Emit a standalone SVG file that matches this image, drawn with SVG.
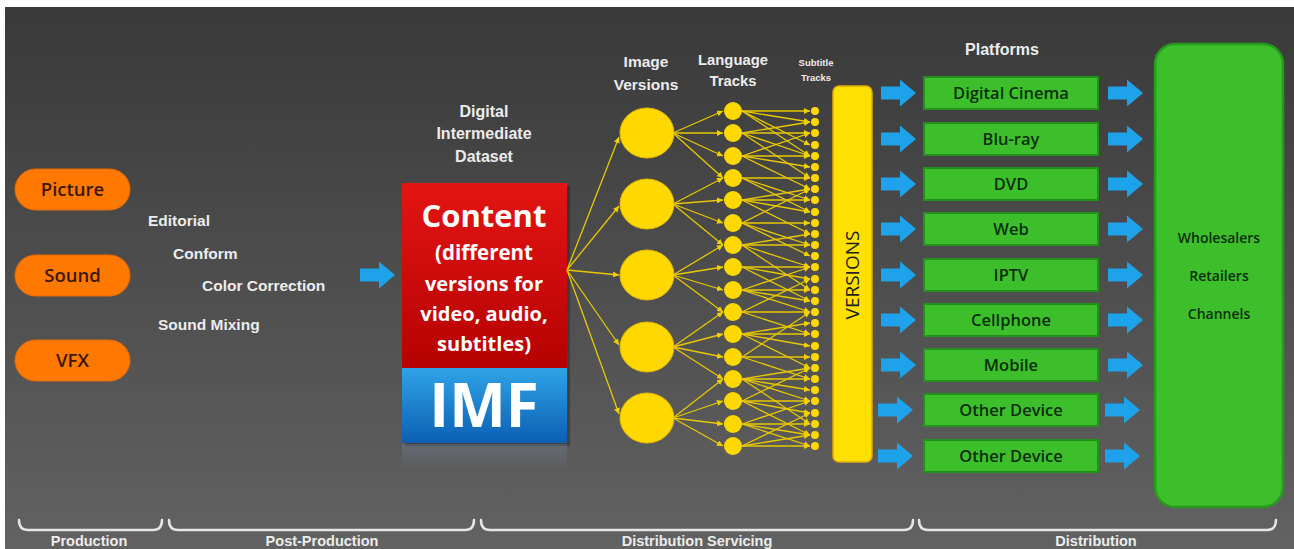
<svg xmlns="http://www.w3.org/2000/svg" width="1294" height="549" viewBox="0 0 1294 549">
<defs>
<linearGradient id="bg" x1="0" y1="0" x2="0" y2="1"><stop offset="0" stop-color="#393939"/><stop offset="1" stop-color="#626262"/></linearGradient>
<linearGradient id="red" x1="0" y1="0" x2="0" y2="1"><stop offset="0" stop-color="#e41414"/><stop offset="1" stop-color="#b50202"/></linearGradient>
<linearGradient id="blue" x1="0" y1="0" x2="0" y2="1"><stop offset="0" stop-color="#2fa3e6"/><stop offset="1" stop-color="#0c5fb3"/></linearGradient>
<linearGradient id="refl" x1="0" y1="0" x2="0" y2="1"><stop offset="0" stop-color="#7a8fb0" stop-opacity="0.3"/><stop offset="1" stop-color="#7a8fb0" stop-opacity="0"/></linearGradient>
<marker id="ah" viewBox="0 0 6 6" refX="6" refY="3" markerWidth="6" markerHeight="6" markerUnits="userSpaceOnUse" orient="auto"><path d="M0,0 L6,3 L0,6 z" fill="#f2d000"/></marker>
<path id="barrow" d="M0,-6.5 H19 V-13.5 L35,0 L19,13.5 V6.5 H0 Z" fill="#1ea3ea"/>
<style>
.lbl{font-family:"Liberation Sans",Arial,sans-serif;font-weight:bold;fill:#ececec;}
.pill{fill:#ff7800;stroke:#e86a00;stroke-width:1;}
.ptxt{font-family:"Open Sans",sans-serif;font-size:18.5px;font-weight:600;fill:#3a1800;text-anchor:middle;}
.ln{stroke:#e8c800;stroke-width:1.3;fill:none;marker-end:url(#ah);}
.big{fill:#ffd800;stroke:#e6b800;stroke-width:1;}
.gbox{fill:#3cbf2b;stroke:#23921c;stroke-width:2;}
.gtxt{font-family:"Open Sans",sans-serif;font-size:16.5px;font-weight:600;fill:#0d2e0b;text-anchor:middle;}
.brace{fill:none;stroke:#e6e6e6;stroke-width:2.5;stroke-linecap:round;}
.blbl{font-family:"Liberation Sans",Arial,sans-serif;font-weight:bold;font-size:14.5px;fill:#ececec;text-anchor:middle;}
</style>
</defs>
<rect x="0" y="0" width="1294" height="549" fill="#ffffff"/>
<rect x="5" y="7" width="1289" height="542" fill="url(#bg)"/>

<g id="picture"><rect class="pill" x="15" y="169" width="115" height="41" rx="20.5"/><text class="ptxt" x="72.5" y="196">Picture</text></g>
<g id="sound"><rect class="pill" x="15" y="255" width="115" height="41" rx="20.5"/><text class="ptxt" x="72.5" y="282">Sound</text></g>
<g id="vfx"><rect class="pill" x="15" y="340" width="115" height="41" rx="20.5"/><text class="ptxt" x="72.5" y="367">VFX</text></g>

<g id="postprod">
<text class="lbl" x="148" y="226" font-size="15.5">Editorial</text>
<text class="lbl" x="173" y="259" font-size="15.5">Conform</text>
<text class="lbl" x="202" y="291" font-size="15.5">Color Correction</text>
<text class="lbl" x="158" y="330" font-size="15.5">Sound Mixing</text>
</g>

<g id="arrow-post"><use href="#barrow" x="360" y="275"/></g>

<g id="dataset-label">
<text class="lbl" x="484" y="117" font-size="16" text-anchor="middle">Digital</text>
<text class="lbl" x="484" y="139" font-size="16" text-anchor="middle">Intermediate</text>
<text class="lbl" x="484" y="162" font-size="16" text-anchor="middle">Dataset</text>
</g>

<g id="content">
<rect x="405" y="186" width="165" height="260" fill="#000" opacity="0.25"/>
<rect x="402" y="444" width="165" height="26" fill="url(#refl)"/>
<rect x="402" y="183" width="165" height="185" fill="url(#red)"/>
<rect x="402" y="368" width="165" height="75" fill="url(#blue)"/>
<g font-family="'Open Sans',sans-serif" font-weight="bold" fill="#ffffff" text-anchor="middle">
<text x="484" y="227" font-size="31">Content</text>
<text x="484" y="260" font-size="20.5">(different</text>
<text x="484" y="291" font-size="20">versions for</text>
<text x="484" y="321" font-size="20">video, audio,</text>
<text x="484" y="351" font-size="20">subtitles)</text>
<text x="484" y="427" font-size="60">IMF</text>
</g>
</g>

<g id="column-labels" class="lbl" text-anchor="middle">
<text x="646" y="67" font-size="15.5">Image</text>
<text x="646" y="90" font-size="15.5">Versions</text>
<text x="733" y="65" font-size="14.8">Language</text>
<text x="733" y="86" font-size="14.8">Tracks</text>
<text x="816" y="66" font-size="9.5">Subtitle</text>
<text x="816" y="81" font-size="9.5">Tracks</text>
<text x="1002" y="55" font-size="16">Platforms</text>
</g>

<g id="connectors">
<line class="ln" x1="567" y1="270" x2="619" y2="137"/>
<line class="ln" x1="567" y1="270" x2="619" y2="206"/>
<line class="ln" x1="567" y1="270" x2="619" y2="275"/>
<line class="ln" x1="567" y1="270" x2="619" y2="345"/>
<line class="ln" x1="567" y1="270" x2="619" y2="414"/>

<line class="ln" x1="673" y1="133" x2="723" y2="111"/>
<line class="ln" x1="673" y1="133" x2="723" y2="133"/>
<line class="ln" x1="673" y1="133" x2="723" y2="156"/>
<line class="ln" x1="673" y1="133" x2="723" y2="178"/>
<line class="ln" x1="673" y1="204" x2="723" y2="178"/>
<line class="ln" x1="673" y1="204" x2="723" y2="200"/>
<line class="ln" x1="673" y1="204" x2="723" y2="223"/>
<line class="ln" x1="673" y1="204" x2="723" y2="245"/>
<line class="ln" x1="673" y1="275" x2="723" y2="245"/>
<line class="ln" x1="673" y1="275" x2="723" y2="267"/>
<line class="ln" x1="673" y1="275" x2="723" y2="290"/>
<line class="ln" x1="673" y1="275" x2="723" y2="312"/>
<line class="ln" x1="673" y1="347" x2="723" y2="312"/>
<line class="ln" x1="673" y1="347" x2="723" y2="334"/>
<line class="ln" x1="673" y1="347" x2="723" y2="357"/>
<line class="ln" x1="673" y1="347" x2="723" y2="379"/>
<line class="ln" x1="673" y1="418" x2="723" y2="379"/>
<line class="ln" x1="673" y1="418" x2="723" y2="401"/>
<line class="ln" x1="673" y1="418" x2="723" y2="424"/>
<line class="ln" x1="673" y1="418" x2="723" y2="446"/>

<line class="ln" x1="742" y1="111" x2="810" y2="111"/>
<line class="ln" x1="742" y1="111" x2="810" y2="122"/>
<line class="ln" x1="742" y1="111" x2="810" y2="145"/>
<line class="ln" x1="742" y1="111" x2="810" y2="156"/>
<line class="ln" x1="742" y1="133" x2="810" y2="122"/>
<line class="ln" x1="742" y1="133" x2="810" y2="133"/>
<line class="ln" x1="742" y1="133" x2="810" y2="156"/>
<line class="ln" x1="742" y1="133" x2="810" y2="178"/>
<line class="ln" x1="742" y1="156" x2="810" y2="133"/>
<line class="ln" x1="742" y1="156" x2="810" y2="156"/>
<line class="ln" x1="742" y1="156" x2="810" y2="167"/>
<line class="ln" x1="742" y1="156" x2="810" y2="189"/>
<line class="ln" x1="742" y1="178" x2="810" y2="178"/>
<line class="ln" x1="742" y1="178" x2="810" y2="200"/>
<line class="ln" x1="742" y1="178" x2="810" y2="212"/>
<line class="ln" x1="742" y1="200" x2="810" y2="189"/>
<line class="ln" x1="742" y1="200" x2="810" y2="200"/>
<line class="ln" x1="742" y1="200" x2="810" y2="212"/>
<line class="ln" x1="742" y1="200" x2="810" y2="234"/>
<line class="ln" x1="742" y1="223" x2="810" y2="189"/>
<line class="ln" x1="742" y1="223" x2="810" y2="223"/>
<line class="ln" x1="742" y1="223" x2="810" y2="245"/>
<line class="ln" x1="742" y1="223" x2="810" y2="256"/>
<line class="ln" x1="742" y1="245" x2="810" y2="234"/>
<line class="ln" x1="742" y1="245" x2="810" y2="245"/>
<line class="ln" x1="742" y1="245" x2="810" y2="267"/>
<line class="ln" x1="742" y1="245" x2="810" y2="290"/>
<line class="ln" x1="742" y1="267" x2="810" y2="267"/>
<line class="ln" x1="742" y1="267" x2="810" y2="279"/>
<line class="ln" x1="742" y1="267" x2="810" y2="301"/>
<line class="ln" x1="742" y1="290" x2="810" y2="267"/>
<line class="ln" x1="742" y1="290" x2="810" y2="290"/>
<line class="ln" x1="742" y1="290" x2="810" y2="301"/>
<line class="ln" x1="742" y1="290" x2="810" y2="312"/>
<line class="ln" x1="742" y1="312" x2="810" y2="279"/>
<line class="ln" x1="742" y1="312" x2="810" y2="312"/>
<line class="ln" x1="742" y1="312" x2="810" y2="334"/>
<line class="ln" x1="742" y1="334" x2="810" y2="323"/>
<line class="ln" x1="742" y1="334" x2="810" y2="334"/>
<line class="ln" x1="742" y1="334" x2="810" y2="346"/>
<line class="ln" x1="742" y1="334" x2="810" y2="368"/>
<line class="ln" x1="742" y1="357" x2="810" y2="312"/>
<line class="ln" x1="742" y1="357" x2="810" y2="357"/>
<line class="ln" x1="742" y1="357" x2="810" y2="379"/>
<line class="ln" x1="742" y1="379" x2="810" y2="368"/>
<line class="ln" x1="742" y1="379" x2="810" y2="379"/>
<line class="ln" x1="742" y1="379" x2="810" y2="390"/>
<line class="ln" x1="742" y1="379" x2="810" y2="401"/>
<line class="ln" x1="742" y1="379" x2="810" y2="424"/>
<line class="ln" x1="742" y1="401" x2="810" y2="368"/>
<line class="ln" x1="742" y1="401" x2="810" y2="401"/>
<line class="ln" x1="742" y1="401" x2="810" y2="413"/>
<line class="ln" x1="742" y1="401" x2="810" y2="435"/>
<line class="ln" x1="742" y1="424" x2="810" y2="401"/>
<line class="ln" x1="742" y1="424" x2="810" y2="424"/>
<line class="ln" x1="742" y1="424" x2="810" y2="435"/>
<line class="ln" x1="742" y1="424" x2="810" y2="446"/>
<line class="ln" x1="742" y1="446" x2="810" y2="413"/>
<line class="ln" x1="742" y1="446" x2="810" y2="435"/>
<line class="ln" x1="742" y1="446" x2="810" y2="446"/>

<use href="#barrow" x="881" y="93"/>
<use href="#barrow" x="881" y="139"/>
<use href="#barrow" x="881" y="184"/>
<use href="#barrow" x="881" y="229"/>
<use href="#barrow" x="881" y="275"/>
<use href="#barrow" x="881" y="320"/>
<use href="#barrow" x="881" y="365"/>
<use href="#barrow" x="878" y="410"/>
<use href="#barrow" x="878" y="456"/>
<use href="#barrow" x="1108" y="93"/>
<use href="#barrow" x="1108" y="139"/>
<use href="#barrow" x="1108" y="184"/>
<use href="#barrow" x="1108" y="229"/>
<use href="#barrow" x="1108" y="275"/>
<use href="#barrow" x="1108" y="320"/>
<use href="#barrow" x="1108" y="365"/>
<use href="#barrow" x="1105" y="410"/>
<use href="#barrow" x="1105" y="456"/>
</g>

<g id="image-v1"><ellipse class="big" cx="647" cy="133" rx="27" ry="25"/></g>
<g id="image-v2"><ellipse class="big" cx="647" cy="204" rx="27" ry="25"/></g>
<g id="image-v3"><ellipse class="big" cx="647" cy="275" rx="27" ry="25"/></g>
<g id="image-v4"><ellipse class="big" cx="647" cy="347" rx="27" ry="25"/></g>
<g id="image-v5"><ellipse class="big" cx="647" cy="418" rx="27" ry="25"/></g>

<g id="language-tracks" fill="#ffd800">
<circle cx="733" cy="111" r="9"/><circle cx="733" cy="133" r="9"/><circle cx="733" cy="156" r="9"/><circle cx="733" cy="178" r="9"/>
<circle cx="733" cy="200" r="9"/><circle cx="733" cy="223" r="9"/><circle cx="733" cy="245" r="9"/><circle cx="733" cy="267" r="9"/>
<circle cx="733" cy="290" r="9"/><circle cx="733" cy="312" r="9"/><circle cx="733" cy="334" r="9"/><circle cx="733" cy="357" r="9"/>
<circle cx="733" cy="379" r="9"/><circle cx="733" cy="401" r="9"/><circle cx="733" cy="424" r="9"/><circle cx="733" cy="446" r="9"/>
</g>

<g id="subtitle-tracks" fill="#ffd800">
<circle cx="815" cy="111" r="4"/><circle cx="815" cy="122" r="4"/><circle cx="815" cy="133" r="4"/><circle cx="815" cy="145" r="4"/>
<circle cx="815" cy="156" r="4"/><circle cx="815" cy="167" r="4"/><circle cx="815" cy="178" r="4"/><circle cx="815" cy="189" r="4"/>
<circle cx="815" cy="200" r="4"/><circle cx="815" cy="212" r="4"/><circle cx="815" cy="223" r="4"/><circle cx="815" cy="234" r="4"/>
<circle cx="815" cy="245" r="4"/><circle cx="815" cy="256" r="4"/><circle cx="815" cy="267" r="4"/><circle cx="815" cy="279" r="4"/>
<circle cx="815" cy="290" r="4"/><circle cx="815" cy="301" r="4"/><circle cx="815" cy="312" r="4"/><circle cx="815" cy="323" r="4"/>
<circle cx="815" cy="334" r="4"/><circle cx="815" cy="346" r="4"/><circle cx="815" cy="357" r="4"/><circle cx="815" cy="368" r="4"/>
<circle cx="815" cy="379" r="4"/><circle cx="815" cy="390" r="4"/><circle cx="815" cy="401" r="4"/><circle cx="815" cy="413" r="4"/>
<circle cx="815" cy="424" r="4"/><circle cx="815" cy="435" r="4"/><circle cx="815" cy="446" r="4"/>
</g>

<g id="versions">
<rect x="833" y="86" width="39" height="376" rx="6" fill="#ffe000" stroke="#e5a800" stroke-width="1.5"/>
<text transform="translate(859,275) rotate(-90)" font-family="'Open Sans',sans-serif" font-size="19" fill="#222" text-anchor="middle">VERSIONS</text>
</g>

<g id="p-digital-cinema"><rect class="gbox" x="924" y="77" width="174" height="32"/><text class="gtxt" x="1011" y="99">Digital Cinema</text></g>
<g id="p-bluray"><rect class="gbox" x="924" y="123" width="174" height="32"/><text class="gtxt" x="1011" y="145">Blu-ray</text></g>
<g id="p-dvd"><rect class="gbox" x="924" y="168" width="174" height="32"/><text class="gtxt" x="1011" y="190">DVD</text></g>
<g id="p-web"><rect class="gbox" x="924" y="213" width="174" height="32"/><text class="gtxt" x="1011" y="235">Web</text></g>
<g id="p-iptv"><rect class="gbox" x="924" y="259" width="174" height="32"/><text class="gtxt" x="1011" y="281">IPTV</text></g>
<g id="p-cellphone"><rect class="gbox" x="924" y="304" width="174" height="32"/><text class="gtxt" x="1011" y="326">Cellphone</text></g>
<g id="p-mobile"><rect class="gbox" x="924" y="349" width="174" height="32"/><text class="gtxt" x="1011" y="371">Mobile</text></g>
<g id="p-other1"><rect class="gbox" x="924" y="394" width="174" height="32"/><text class="gtxt" x="1011" y="416">Other Device</text></g>
<g id="p-other2"><rect class="gbox" x="924" y="440" width="174" height="32"/><text class="gtxt" x="1011" y="462">Other Device</text></g>

<g id="channels">
<rect x="1155" y="44" width="128" height="463" rx="20" fill="#3cbf2b" stroke="#259a1e" stroke-width="2.5"/>
<g font-family="'Open Sans',sans-serif" font-size="14" font-weight="600" fill="#0d2e0b" text-anchor="middle">
<text x="1219" y="243">Wholesalers</text>
<text x="1219" y="281">Retailers</text>
<text x="1219" y="319">Channels</text>
</g>
</g>

<g id="phases">
<path class="brace" d="M19,520 Q19,530 28,530 H153 Q162,530 162,520"/>
<path class="brace" d="M169,520 Q169,530 178,530 H465 Q474,530 474,520"/>
<path class="brace" d="M481,520 Q481,530 490,530 H904 Q913,530 913,520"/>
<path class="brace" d="M919,520 Q919,530 928,530 H1267 Q1276,530 1276,520"/>
<text class="blbl" x="89" y="546">Production</text>
<text class="blbl" x="322" y="546">Post-Production</text>
<text class="blbl" x="697" y="546">Distribution Servicing</text>
<text class="blbl" x="1096" y="546">Distribution</text>
</g>
</svg>
